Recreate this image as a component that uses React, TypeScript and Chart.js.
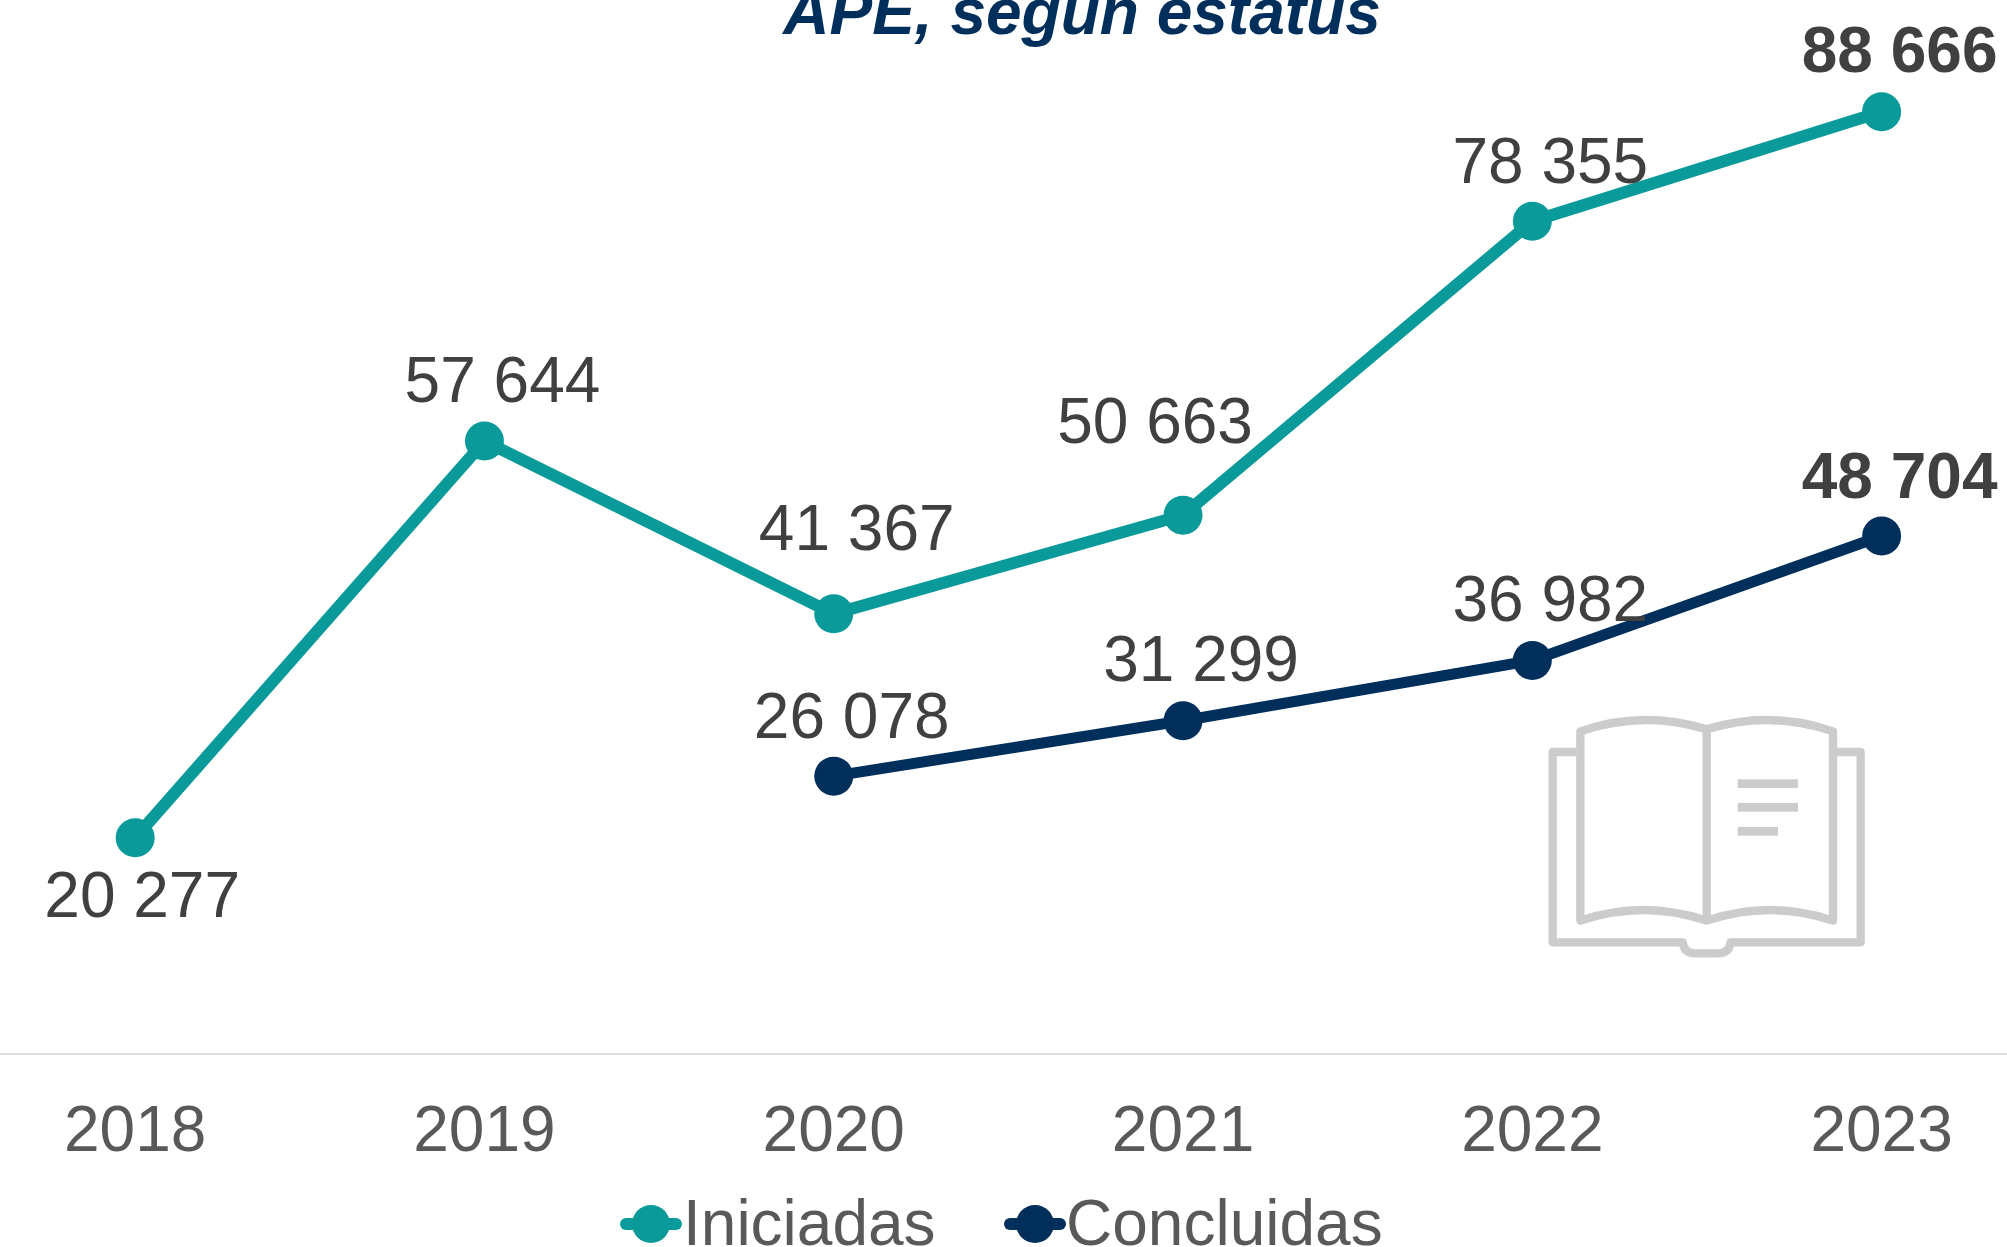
import React, { useEffect, useRef } from "react";
import { Chart, registerables } from "chart.js";

Chart.register(...registerables);

const years = [2018, 2019, 2020, 2021, 2022, 2023];
const iniciadas = [20277, 57644, 41367, 50663, 78355, 88666];
const concluidas = [null, null, 26078, 31299, 36982, 48704];
const titleText = "APE, según estatus";

const TEAL = "#0A9A9A";
const NAVY = "#002F5B";
const FONT = '"Liberation Sans", Arial, sans-serif';

// label placement relative to each point, in pixels
const iniciadasOffsets = [[7, 62], [18, -57], [23, -81], [-28, -90], [18, -56], [18, -57]];
const concluidasOffsets = [null, null, [18, -56], [18, -57], [18, -57], [18, -56]];

const fmt = (v: number) => String(v).replace(/\B(?=(\d{3})+$)/g, " ");

const BOOK_OUTER = "M241 216H158V787H548Q552 820 585 820H655Q688 820 692 787H1082V216H999";
const BOOK_PAGES = "M620 148Q430 89 241 154V722Q430 658 620 722Q810 658 999 722V154Q810 89 620 148ZM620 148V722";

const decorations = {
  id: "decorations",
  beforeDatasetsDraw(chart: any) {
    const ctx = chart.ctx;
    ctx.save();
    ctx.translate(1500, 680);
    ctx.scale(1 / 3, 1 / 3);
    ctx.strokeStyle = "#CCCCCC";
    ctx.fillStyle = "#CCCCCC";
    ctx.lineWidth = 25;
    ctx.lineJoin = "round";
    ctx.lineCap = "round";
    ctx.stroke(new Path2D(BOOK_OUTER));
    ctx.stroke(new Path2D(BOOK_PAGES));
    ctx.fillRect(713, 298, 181, 26);
    ctx.fillRect(713, 369, 181, 26);
    ctx.fillRect(713, 441, 121, 26);
    ctx.restore();

    ctx.save();
    ctx.font = `italic bold 64px ${FONT}`;
    ctx.fillStyle = NAVY;
    ctx.textAlign = "center";
    ctx.textBaseline = "alphabetic";
    ctx.fillText(titleText, 1082, 34);
    ctx.restore();
  },
  afterDatasetsDraw(chart: any) {
    const ctx = chart.ctx;
    const offsets = [iniciadasOffsets, concluidasOffsets];
    ctx.save();
    ctx.textAlign = "center";
    ctx.textBaseline = "middle";
    ctx.fillStyle = "#404040";
    chart.data.datasets.forEach((ds: any, di: number) => {
      const meta = chart.getDatasetMeta(di);
      ds.data.forEach((d: any, i: number) => {
        if (d.y == null) return;
        const el = meta.data[i];
        const off = offsets[di][i] as number[];
        ctx.font = `${i === years.length - 1 ? "bold " : ""}64px ${FONT}`;
        ctx.fillText(fmt(d.y), el.x + off[0], el.y + off[1]);
      });
    });
    ctx.restore();

    // legend
    const items = [
      { cx: 651, tx: 683 },
      { cx: 1035, tx: 1066 },
    ];
    ctx.save();
    ctx.font = `64px ${FONT}`;
    ctx.textAlign = "left";
    ctx.textBaseline = "alphabetic";
    chart.data.datasets.forEach((ds: any, di: number) => {
      const { cx, tx } = items[di];
      const cy = 1224;
      ctx.strokeStyle = ds.borderColor;
      ctx.fillStyle = ds.borderColor;
      ctx.lineWidth = 12;
      ctx.lineCap = "round";
      ctx.beginPath();
      ctx.moveTo(cx - 25, cy);
      ctx.lineTo(cx + 25, cy);
      ctx.stroke();
      ctx.beginPath();
      ctx.arc(cx, cy, 19, 0, Math.PI * 2);
      ctx.fill();
      ctx.fillStyle = "#595959";
      ctx.fillText(ds.label, tx, 1245);
    });
    ctx.restore();
  },
};

export default function App() {
  const ref = useRef<HTMLCanvasElement>(null);
  useEffect(() => {
    const toPoints = (vals: (number | null)[]) => vals.map((y, i) => ({ x: years[i], y }));
    const chart = new Chart(ref.current!, {
      type: "line",
      data: {
        datasets: [
          {
            label: "Iniciadas",
            data: toPoints(iniciadas),
            borderColor: TEAL,
            backgroundColor: TEAL,
            borderWidth: 12,
            pointRadius: 19.5,
            pointBorderWidth: 0,
            tension: 0,
            clip: false,
          },
          {
            label: "Concluidas",
            data: toPoints(concluidas),
            borderColor: NAVY,
            backgroundColor: NAVY,
            borderWidth: 11,
            pointRadius: 19.5,
            pointBorderWidth: 0,
            tension: 0,
            clip: false,
          },
        ],
      } as any,
      options: {
        responsive: false,
        animation: false,
        layout: { padding: 0, autoPadding: false },
        plugins: { legend: { display: false }, tooltip: { enabled: false }, title: { display: false } },
        scales: {
          x: {
            type: "linear",
            min: 2017.613,
            max: 2023.359,
            afterFit(scale: any) {
              scale.height = 193;
              scale.paddingLeft = 0;
              scale.paddingRight = 0;
            },
            grid: { display: false, drawTicks: false },
            border: { display: true, color: "#DEDEDE", width: 2 },
            ticks: {
              stepSize: 1,
              includeBounds: false,
              autoSkip: false,
              maxRotation: 0,
              padding: 41,
              color: "#595959",
              font: { family: FONT, size: 64 },
              callback: (v: any) => String(v),
            },
          },
          y: { display: false, min: -95, max: 99190 },
        },
      } as any,
      plugins: [decorations],
    });
    return () => chart.destroy();
  }, []);
  return (
    <div style={{ position: "absolute", left: 0, top: 0, width: 2007, height: 1247, overflow: "hidden", background: "#fff" }}>
      <canvas ref={ref} width={2007} height={1247} style={{ display: "block" }} />
    </div>
  );
}
